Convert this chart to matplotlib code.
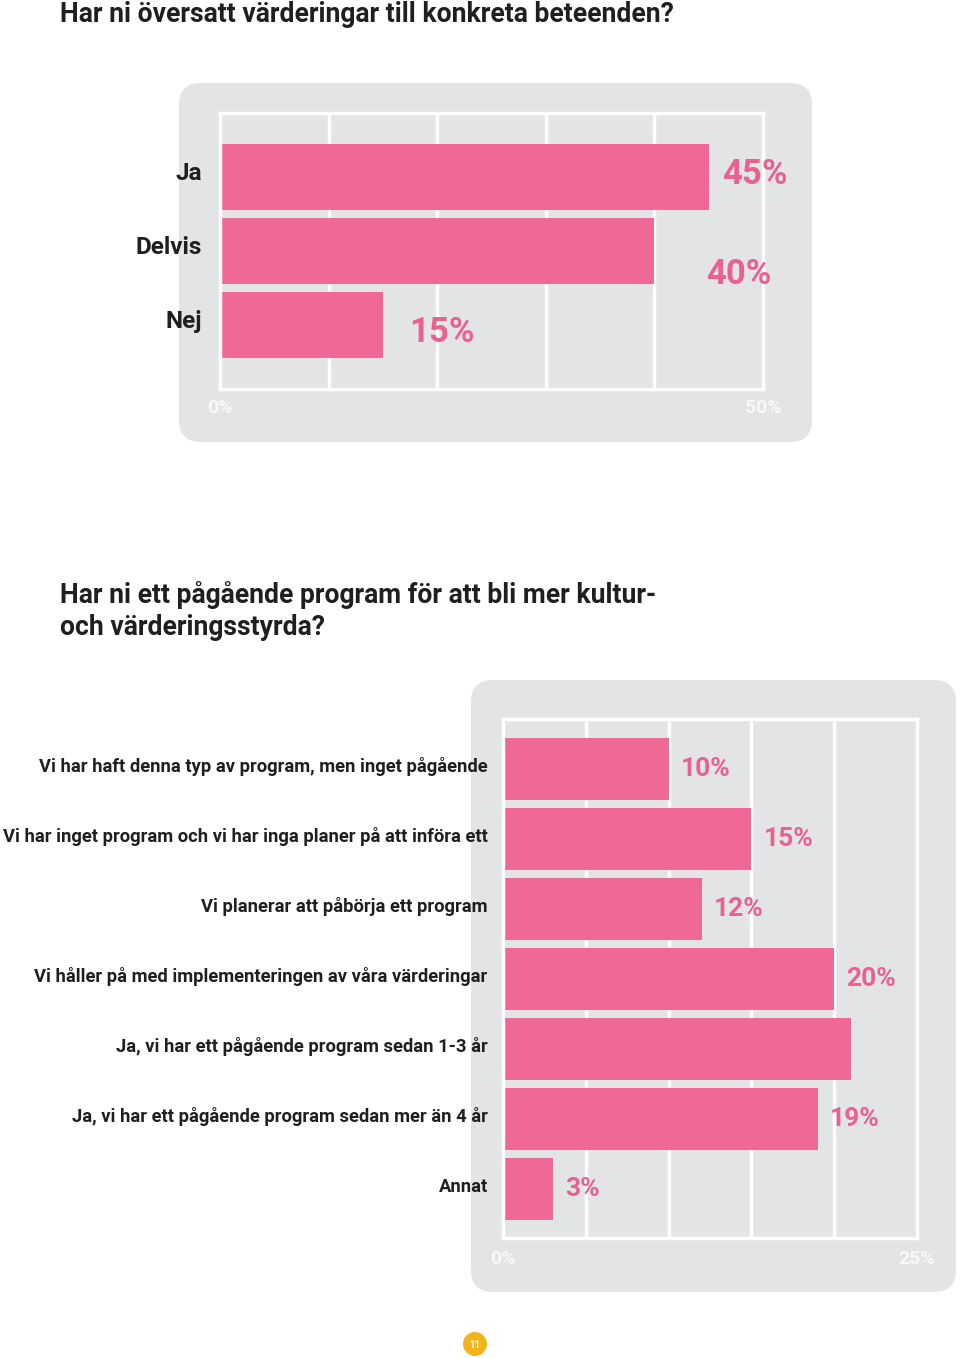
import matplotlib
matplotlib.use("Agg")
import matplotlib.pyplot as plt
from matplotlib.patches import FancyBboxPatch, Circle
from matplotlib.transforms import ScaledTranslation

# ---------------- data ----------------
title1 = "Har ni översatt värderingar till konkreta beteenden?"
cats1 = ["Ja", "Delvis", "Nej"]
vals1 = [45, 40, 15]
labels1 = ["45%", "40%", "15%"]
ticks1 = [0, 50]
ticklabels1 = ["0%", "50%"]

title2 = "Har ni ett pågående program för att bli mer kultur-\noch värderingsstyrda?"
cats2 = [
    "Vi har haft denna typ av program, men inget pågående",
    "Vi har inget program och vi har inga planer på att införa ett",
    "Vi planerar att påbörja ett program",
    "Vi håller på med implementeringen av våra värderingar",
    "Ja, vi har ett pågående program sedan 1-3 år",
    "Ja, vi har ett pågående program sedan mer än 4 år",
    "Annat",
]
vals2 = [10, 15, 12, 20, 21, 19, 3]
labels2 = ["10%", "15%", "12%", "20%", "", "19%", "3%"]
ticks2 = [0, 25]
ticklabels2 = ["0%", "25%"]
page_no = "11"

# ---------------- style ----------------
PINK = "#F06895"
LABEL_PINK = "#E9628F"
PANEL = "#E3E4E6"
DARK = "#1F1F1F"
FONT = ["Roboto", "DejaVu Sans"]
plt.rcParams["font.family"] = FONT

W, H = 960, 1358
fig = plt.figure(figsize=(W / 100, H / 100), dpi=100)
fig.patch.set_facecolor("white")

# background overlay in pixel coords
bg = fig.add_axes([0, 0, 1, 1], zorder=0)
bg.set_xlim(0, W)
bg.set_ylim(H, 0)
bg.axis("off")

def panel(x0, y0, x1, y1, r=22):
    bg.add_patch(FancyBboxPatch((x0 + r, y0 + r), x1 - x0 - 2 * r, y1 - y0 - 2 * r,
                                boxstyle=f"round,pad={r}", fc=PANEL, ec="none"))

panel(179, 83, 812, 442)
panel(471, 680, 956, 1292)

bg.text(60, 14, title1, fontsize=19.1, fontweight="bold", color=DARK, va="center", ha="left")
bg.text(60, 611, title2, fontsize=19.1, fontweight="bold", color=DARK, va="center", ha="left",
        linespacing=1.2)

bg.add_patch(Circle((475, 1344), 12, fc="#F2B41C", ec="none"))
bg.text(475, 1345, page_no, fontsize=7, color="white", ha="center", va="center", fontweight="bold")


def px_axes(l, t, r, b):
    return fig.add_axes([l / W, 1 - b / H, (r - l) / W, (b - t) / H], zorder=1)


def style(ax, xmax, step, ticks, ticklabels, tick_pad):
    ax.set_facecolor(PANEL)
    ax.set_xlim(0, xmax)
    for s in ax.spines.values():
        s.set_color("white")
        s.set_linewidth(2.5)
    for g in range(step, xmax, step):
        ax.axvline(g, color="white", lw=2.5, zorder=0)
    ax.set_xticks(ticks)
    ax.set_xticklabels(ticklabels, color="#F8F8F8", fontsize=14, fontweight="bold")
    ax.tick_params(axis="x", length=0, pad=tick_pad)
    ax.tick_params(axis="y", length=0)


def shift_up(labels, px):
    for t in labels:
        t.set_transform(t.get_transform() + ScaledTranslation(0, px / 100, fig.dpi_scale_trans))


# ---------------- chart 1 ----------------
ax1 = px_axes(220, 113, 763, 389)
style(ax1, 50, 10, ticks1, ticklabels1, 7.5)
y1 = list(range(len(cats1)))
ax1.barh(y1, vals1, height=66 / 74, color=PINK, zorder=2)
ax1.set_ylim(2 + 64 / 74, -64 / 74)
ax1.set_yticks(y1)
ax1.set_yticklabels(cats1, fontsize=17.5, fontweight="bold", color=DARK)
ax1.tick_params(axis="y", pad=13)
shift_up(ax1.get_yticklabels(), 6)
# label offsets (px right of bar end, px down from bar centre)
off1 = [(13, -2), (52, 24), (26, 8)]
for i, (v, lab) in enumerate(zip(vals1, labels1)):
    ax1.annotate(lab, (v, i), xytext=(off1[i][0] * 0.72, -off1[i][1] * 0.72),
                 textcoords="offset points", fontsize=25, fontweight="bold",
                 color=LABEL_PINK, va="center", ha="left", annotation_clip=False)

# ---------------- chart 2 ----------------
ax2 = px_axes(503, 719, 917, 1238)
style(ax2, 25, 5, ticks2, ticklabels2, 8.5)
y2 = list(range(len(cats2)))
ax2.barh(y2, vals2, height=62 / 70, color=PINK, zorder=2)
ax2.set_ylim(6 + 49 / 70, -50 / 70)
ax2.set_yticks(y2)
ax2.set_yticklabels(cats2, fontsize=13.2, fontweight="bold", color=DARK)
ax2.tick_params(axis="y", pad=11)
shift_up(ax2.get_yticklabels(), 4)
for i, (v, lab) in enumerate(zip(vals2, labels2)):
    if lab:
        ax2.annotate(lab, (v, i), xytext=(12 * 0.72, 0), textcoords="offset points",
                     fontsize=19, fontweight="bold", color=LABEL_PINK,
                     va="center", ha="left", annotation_clip=False)

fig.savefig("out.png", dpi=100, facecolor="white")
